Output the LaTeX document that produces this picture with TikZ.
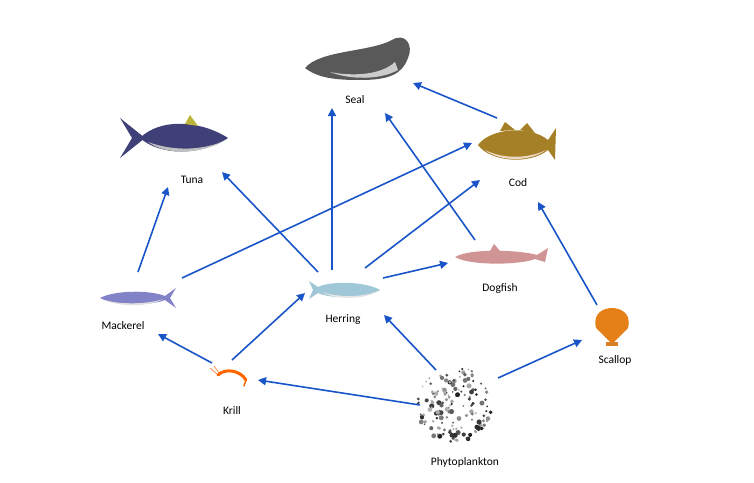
\documentclass[tikz,border=0pt]{standalone}
\usepackage{fontspec}
\setmainfont{Carlito}
\usetikzlibrary{arrows.meta,calc}
\begin{document}
\begin{tikzpicture}[x=1pt,y=-1pt,
  lbl/.style={font=\fontsize{11.5}{13}\selectfont,inner sep=1pt},
  link/.style={draw={rgb,255:red,25;green,85;blue,200},line width=1.6pt,-{Triangle[length=8pt,width=8pt]}}]
\useasboundingbox (0,0) rectangle (754,482);
% ---- pictures ----
% seal
\fill[gray!70!black] (305,68) .. controls (320,50) and (370,52) .. (392,40) .. controls (405,32) and (414,45) .. (408,58) .. controls (402,74) and (390,80) .. (360,80) .. controls (335,80) and (318,78) .. (305,68) -- cycle;
\fill[gray!40] (330,72) .. controls (350,76) and (380,76) .. (395,62) -- (398,70) .. controls (380,80) and (350,80) .. (330,72);
% tuna
\fill[blue!30!black!75] (140,138) .. controls (160,118) and (200,120) .. (228,138) .. controls (200,156) and (160,156) .. (140,138) -- cycle;
\fill[gray!50] (148,142) .. controls (175,152) and (205,150) .. (226,140) .. controls (200,155) and (165,155) .. (148,142);
\fill[blue!30!black!75] (145,138) -- (120,118) -- (132,138) -- (120,158) -- cycle;
\fill[yellow!70!black] (185,124) -- (190,115) -- (198,126) -- cycle;
% cod
\fill[brown!60!olive] (478,145) .. controls (490,128) and (530,125) .. (548,140) -- (556,128) -- (555,160) -- (548,150) .. controls (530,165) and (490,162) .. (478,145) -- cycle;
\fill[brown!30!white] (485,150) .. controls (505,160) and (530,158) .. (546,150) .. controls (530,162) and (500,162) .. (485,150);
\fill[brown!60!olive] (500,131) -- (505,122) -- (515,130) -- cycle;
\fill[brown!60!olive] (520,130) -- (527,123) -- (535,133) -- cycle;
% dogfish
\fill[gray!60!red!60!white] (455,257) .. controls (470,248) and (520,250) .. (537,255) -- (548,248) -- (545,262) -- (535,259) .. controls (520,265) and (470,266) .. (455,257) -- cycle;
\fill[gray!60!red!60!white] (490,251) -- (494,244) -- (500,251) -- cycle;
% mackerel
\fill[gray!60!blue!70] (100,298) .. controls (115,290) and (150,290) .. (165,296) -- (176,288) -- (170,298) -- (176,308) -- (165,300) .. controls (150,306) and (115,306) .. (100,298) -- cycle;
\fill[gray!25] (105,300) .. controls (120,305) and (150,304) .. (163,299) .. controls (150,307) and (118,307) .. (105,300);
% herring
\fill[gray!55!cyan!60!white] (380,290) .. controls (365,281) and (330,281) .. (318,287) -- (309,281) -- (313,290) -- (309,299) -- (318,293) .. controls (330,299) and (365,299) .. (380,290) -- cycle;
\fill[gray!20] (322,292) .. controls (340,298) and (365,297) .. (378,291) .. controls (365,300) and (335,300) .. (322,292);
% scallop
\fill[orange!60!brown] (612,344) -- (596,328) .. controls (592,312) and (605,308) .. (612,308) .. controls (619,308) and (632,312) .. (628,328) -- cycle;
\fill[orange!40!brown] (606,342) rectangle (618,346);
% krill
\draw[orange!80!red,line width=3pt,line cap=round] (218,375) .. controls (225,368) and (240,370) .. (246,380);
\draw[orange!80!red,line width=1.5pt,line cap=round] (246,380) -- (244,386);
\draw[orange!80!red,line width=0.5pt] (218,375) -- (210,368) (220,374) -- (214,366);
% phytoplankton
\pgfmathsetseed{7}
\foreach \i in {1,...,150}{
  \pgfmathsetmacro\ang{rnd*360}
  \pgfmathsetmacro\rad{sqrt(rnd)*38}
  \pgfmathsetmacro\sz{0.8+rnd*1.8}
  \pgfmathsetmacro\gr{25+rnd*65}
  \fill[black!\gr] ($(455,405)+(\ang:\rad)$) circle (\sz);
}
% ---- labels ----
\node[lbl] (seal) at (355,100) {Seal};
\node[lbl] (tuna) at (192,180) {Tuna};
\node[lbl] (cod) at (518,183) {Cod};
\node[lbl] (dogfish) at (500,288) {Dogfish};
\node[lbl] (mackerel) at (123,326) {Mackerel};
\node[lbl] (herring) at (343,320) {Herring};
\node[lbl] (scallop) at (615,360) {Scallop};
\node[lbl] (krill) at (232,410) {Krill};
\node[lbl] (phyto) at (465,462) {Phytoplankton};
% ---- connector endpoints ----
\coordinate (cod1) at (497,118); \coordinate (seal1) at (413,83);
\coordinate (her1) at (332,270); \coordinate (seal2) at (332,108);
\coordinate (dog1) at (475,240); \coordinate (seal3) at (385,113);
\coordinate (her2) at (318,272); \coordinate (tuna1) at (222,172);
\coordinate (mac1) at (138,272); \coordinate (tuna2) at (168,187);
\coordinate (mac2) at (182,278); \coordinate (cod2) at (472,143);
\coordinate (her3) at (365,268); \coordinate (cod3) at (480,180);
\coordinate (her4) at (383,278); \coordinate (dog2) at (448,263);
\coordinate (kri1) at (212,363); \coordinate (mac3) at (158,334);
\coordinate (kri2) at (232,360); \coordinate (her5) at (305,293);
\coordinate (phy1) at (436,370); \coordinate (her6) at (384,315);
\coordinate (phy2) at (420,405); \coordinate (kri3) at (258,380);
\coordinate (phy3) at (498,378); \coordinate (sca1) at (582,340);
\coordinate (sca2) at (597,305); \coordinate (cod4) at (538,202);
\draw[link] (cod1) -- (seal1);
\draw[link] (her1) -- (seal2);
\draw[link] (dog1) -- (seal3);
\draw[link] (her2) -- (tuna1);
\draw[link] (mac1) -- (tuna2);
\draw[link] (mac2) -- (cod2);
\draw[link] (her3) -- (cod3);
\draw[link] (her4) -- (dog2);
\draw[link] (kri1) -- (mac3);
\draw[link] (kri2) -- (her5);
\draw[link] (phy1) -- (her6);
\draw[link] (phy2) -- (kri3);
\draw[link] (phy3) -- (sca1);
\draw[link] (sca2) -- (cod4);
\end{tikzpicture}
\end{document}
